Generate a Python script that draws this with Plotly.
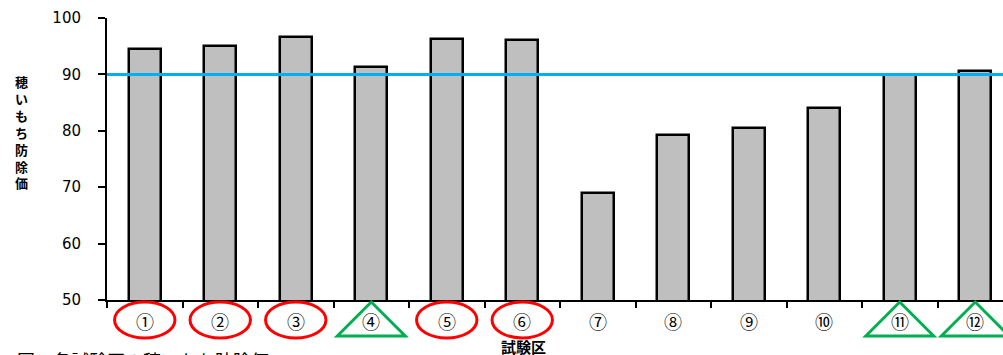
import plotly.graph_objects as go

categories = ["①", "②", "③", "④", "⑤", "⑥", "⑦", "⑧", "⑨", "⑩", "⑪", "⑫"]
values = [94.5, 95.1, 96.6, 91.3, 96.3, 96.1, 69.0, 79.3, 80.5, 84.0, 89.9, 90.6]
marks = ["circle", "circle", "circle", "triangle", "circle", "circle",
         "", "", "", "", "triangle", "triangle"]
reference_value = 90
y_title = "穂いもち防除価"
x_title = "試験区"
caption = "図　各試験区の穂いもち防除価"

W, H = 1003, 355
L, R, T, B = 107, 0, 18, 55
plot_h = H - T - B
cat_px = 75.5
x_max = -0.5 + (W - L - R) / cat_px

def py(pix):
    # pixel y (from top) -> paper y
    return (H - B - pix) / plot_h

def px(pix):
    return (pix - L) / (W - L - R)

fig = go.Figure()
fig.add_trace(go.Bar(
    x=list(range(len(categories))), y=values, width=0.43,
    marker=dict(color="#bfbfbf", line=dict(color="black", width=2.5)),
    showlegend=False, hoverinfo="skip",
))
fig.add_trace(go.Scatter(
    x=[-0.5, x_max], y=[reference_value, reference_value], mode="lines",
    line=dict(color="#00b0f0", width=3), showlegend=False, hoverinfo="skip",
    cliponaxis=False,
))

shapes = []
annotations = []
for i, (lab, m) in enumerate(zip(categories, marks)):
    annotations.append(dict(
        x=i, y=py(321), xref="x", yref="paper", text=lab, showarrow=False,
        font=dict(family="Noto Sans CJK JP", size=18, color="black"),
        xanchor="center", yanchor="middle",
    ))
    if m == "circle":
        shapes.append(dict(type="circle", xref="x", yref="paper",
                           x0=i - 0.4, x1=i + 0.4, y0=py(338), y1=py(302),
                           line=dict(color="#ff0000", width=3)))
    elif m == "triangle":
        a, b = py(302), py(336)
        path = f"M {i - 0.45} {b} L {i} {a} L {i + 0.45} {b} Z"
        shapes.append(dict(type="path", xref="x", yref="paper", path=path,
                           line=dict(color="#00b050", width=3)))

annotations.append(dict(
    x=px(523), y=py(346), xref="paper", yref="paper",
    text="<b>" + x_title + "</b>", showarrow=False,
    font=dict(family="Noto Sans CJK JP", size=15, color="black"),
    xanchor="center", yanchor="middle",
))
annotations.append(dict(
    x=px(21), y=py(132), xref="paper", yref="paper",
    text="<b>" + "<br>".join(y_title) + "</b>",
    showarrow=False, font=dict(family="Noto Sans CJK JP", size=13, color="black"),
    xanchor="center", yanchor="middle",
))
annotations.append(dict(
    x=px(15), y=py(345), xref="paper", yref="paper",
    text=caption, showarrow=False,
    font=dict(family="Noto Sans CJK JP", size=18, color="black"),
    xanchor="left", yanchor="top",
))

fig.update_layout(
    width=W, height=H, margin=dict(l=L, r=R, t=T, b=B),
    plot_bgcolor="white", paper_bgcolor="white",
    shapes=shapes, annotations=annotations, bargap=0,
    xaxis=dict(range=[-0.5, x_max], showgrid=False, zeroline=False,
               showline=True, linecolor="black", linewidth=2,
               ticks="outside", ticklen=6, tickwidth=2, tickcolor="black",
               tickmode="array", tickvals=[k - 0.5 for k in range(len(categories) + 1)],
               showticklabels=False),
    yaxis=dict(range=[50, 100], dtick=10, showgrid=False, zeroline=False,
               showline=True, linecolor="black", linewidth=2,
               ticks="outside", ticklen=7, tickwidth=2, tickcolor="black",
               ticklabelstandoff=14,
               tickfont=dict(family="DejaVu Sans", size=15, color="black")),
)
fig.write_html("out.html")
